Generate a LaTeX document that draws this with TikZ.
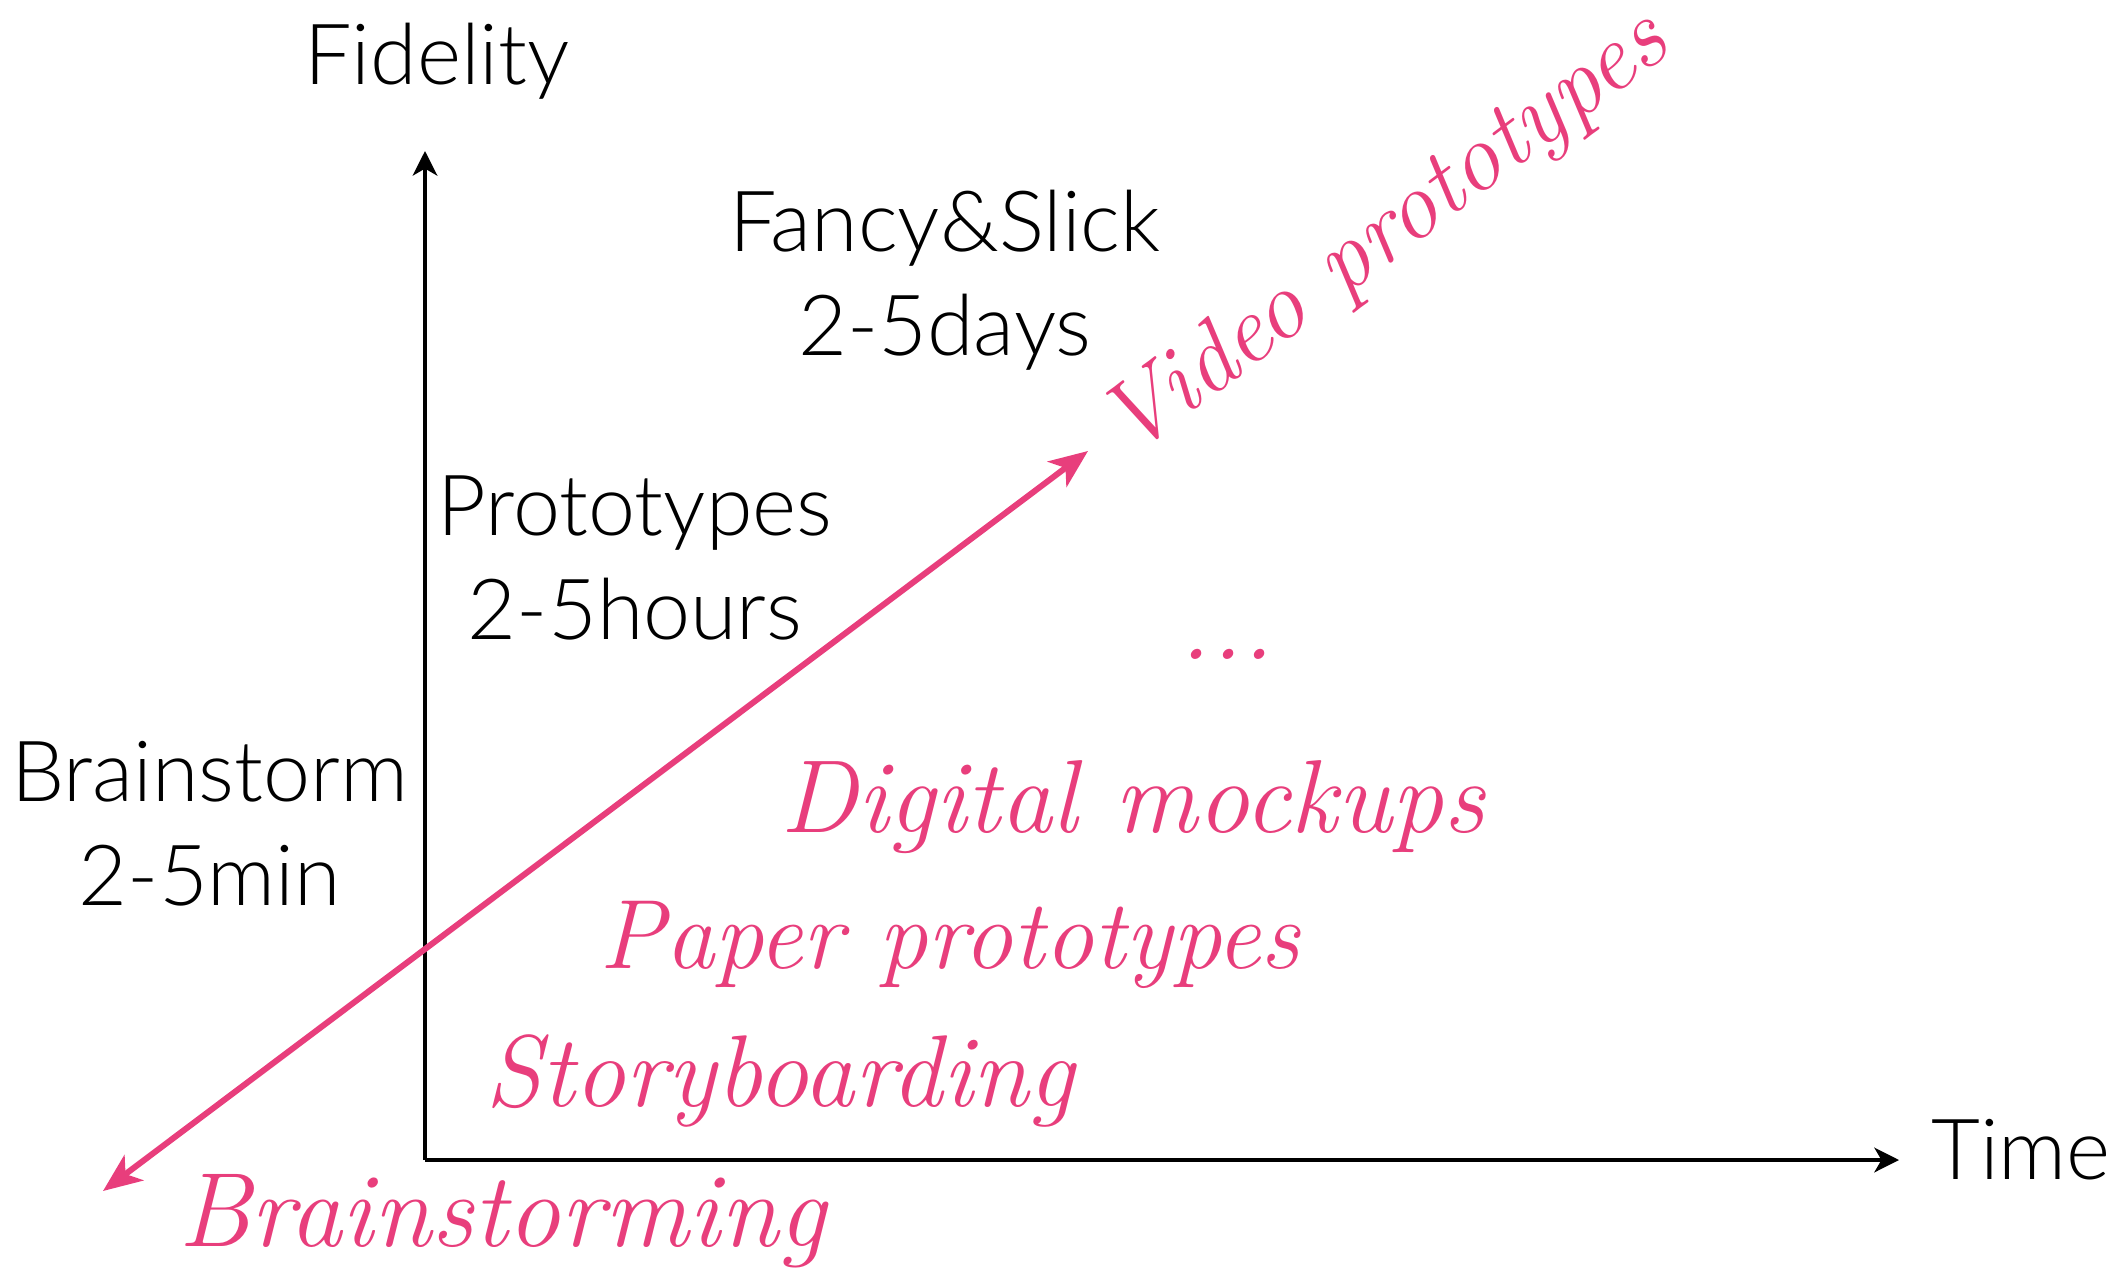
\documentclass[tikz,border=0pt]{standalone}
\usepackage{fontspec}
\usetikzlibrary{arrows.meta}
\IfFontExistsTF{Lato Light}{\newfontfamily\lightfont{Lato Light}}{\newfontfamily\lightfont{Lato}}
\definecolor{pinkc}{RGB}{232,62,124}
\begin{document}
\begin{tikzpicture}[x=0.01cm,y=-0.01cm,
  lab/.style={font=\lightfont\fontsize{24}{29.6}\selectfont, align=center, inner sep=0pt},
  scr/.style={font=\itshape\fontsize{30}{34}\selectfont, text=pinkc, inner sep=0pt},
  axis/.style={line width=1.1pt, -{Stealth[length=7pt,width=7pt,inset=2pt]}},
  pinkarrow/.style={draw=pinkc, line width=1.7pt, {Stealth[length=11pt,width=9pt,inset=3pt]}-{Stealth[length=11pt,width=9pt,inset=3pt]}}
]
\useasboundingbox (0,0) rectangle (2127,1270);
\coordinate (O) at (425,1160);
\coordinate (Ytop) at (425,151);
\coordinate (Xend) at (1899,1160);
\coordinate (PA) at (103,1191);
\coordinate (PB) at (1088,451);
\draw[axis] (O) -- (Ytop);
\draw[axis] (O) -- (Xend);
\draw[pinkarrow] (PA) -- (PB);
\node[lab] (fid) at (437,61) {Fidelity};
\node[lab] (time) at (2021,1150) {Time};
\node[lab] (fancy) at (945,280) {Fancy\&Slick\\2-5days};
\node[lab] (proto) at (635,558) {Prototypes\\2-5hours};
\node[lab] (brain) at (210,824) {Brainstorm\\2-5min};
\node[scr, font=\itshape\fontsize{27.5}{32}\selectfont] (video) at (1387,236) [rotate=36.9] {Video prototypes};
\node[scr] (dots) at (1227,654) {...};
\node[scr, font=\itshape\fontsize{29.5}{34}\selectfont] (digital) at (1133,807) {Digital mockups};
\node[scr, font=\itshape\fontsize{28}{34}\selectfont] (paper) at (950,945) {Paper prototypes};
\node[scr, font=\itshape\fontsize{29}{34}\selectfont] (story) at (780,1081) {Storyboarding};
\node[scr] (brainst) at (502,1221) {Brainstorming};
\end{tikzpicture}
\end{document}
